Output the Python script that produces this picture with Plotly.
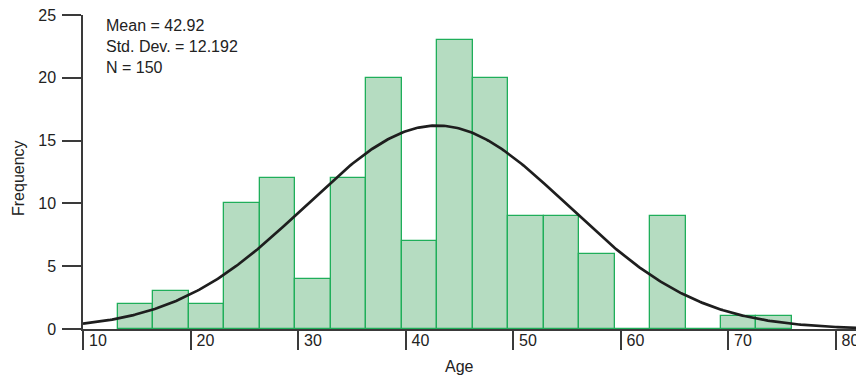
import numpy as np
import plotly.graph_objects as go

# ---- data ----
bin_start = 13.25          # left edge of first bin (years)
bin_width = 3.3            # bin width (years)
frequencies = [2, 3, 2, 10, 12, 4, 12, 20, 7, 23, 20, 9, 9, 6, 0, 9, 0, 1, 1]
mean_age = 42.92
std_age = 12.192
n_obs = 150
x_ticks = [10, 20, 30, 40, 50, 60, 70, 80]
y_ticks = [0, 5, 10, 15, 20, 25]

centers = [bin_start + bin_width * (i + 0.5) for i in range(len(frequencies))]

# fitted normal curve scaled to counts
xs = np.linspace(10, 82, 400)
ys = n_obs * bin_width / (std_age * np.sqrt(2 * np.pi)) * np.exp(-0.5 * ((xs - mean_age) / std_age) ** 2)

fig = go.Figure()
fig.add_trace(go.Bar(
    x=centers, y=frequencies, width=bin_width,
    marker=dict(color="#b5dcc1", line=dict(color="#1fae5a", width=1.3)),
    hoverinfo="x+y",
))
fig.add_trace(go.Scatter(
    x=xs, y=ys, mode="lines",
    line=dict(color="#1e1e1e", width=2.7),
    hoverinfo="skip",
))

axis_color = "#3a3a3a"
font = dict(family="Liberation Sans, Arial, sans-serif", size=16, color="#222222")

fig.update_layout(
    width=856, height=375,
    margin=dict(l=83, r=0, t=15, b=46, autoexpand=False),
    paper_bgcolor="white", plot_bgcolor="white",
    showlegend=False,
    font=font,
    bargap=0,
    xaxis=dict(
        range=[10, 10 + 773 / 10.75],
        tickvals=x_ticks, ticktext=[str(t) for t in x_ticks],
        ticks="outside", ticklen=19, tickwidth=1.5, tickcolor=axis_color,
        showline=True, linecolor=axis_color, linewidth=1.5,
        showgrid=False, zeroline=False, automargin=False,
        ticklabelshift=15, ticklabelstandoff=-23,
        ticklabeloverflow="allow",
    ),
    yaxis=dict(
        range=[0, 25],
        tickvals=y_ticks,
        ticks="outside", ticklen=19, tickwidth=1.5, tickcolor=axis_color,
        showline=True, linecolor=axis_color, linewidth=1.5,
        showgrid=False, zeroline=False, automargin=False,
        ticklabelstandoff=3,
    ),
    annotations=[
        dict(
            xref="paper", yref="paper",
            x=(104 - 83) / 773, y=1.0, xanchor="left", yanchor="top",
            align="left", showarrow=False,
            text=f"Mean = {mean_age:.2f}<br>Std. Dev. = {std_age:.3f}<br>N = {n_obs}",
            font=font,
        ),
        dict(
            xref="paper", yref="paper",
            x=(459 - 83) / 773, y=(329 - 366) / 314, xanchor="center", yanchor="middle",
            showarrow=False, text="Age", font=font,
        ),
        dict(
            xref="paper", yref="paper",
            x=(18 - 83) / 773, y=(329 - 178) / 314, xanchor="center", yanchor="middle",
            showarrow=False, text="Frequency", textangle=-90, font=font,
        ),
    ],
)

fig.write_html(
    "out.html",
    config={"displayModeBar": False},
    post_script="document.body.style.margin='0';document.body.style.padding='0';",
)
